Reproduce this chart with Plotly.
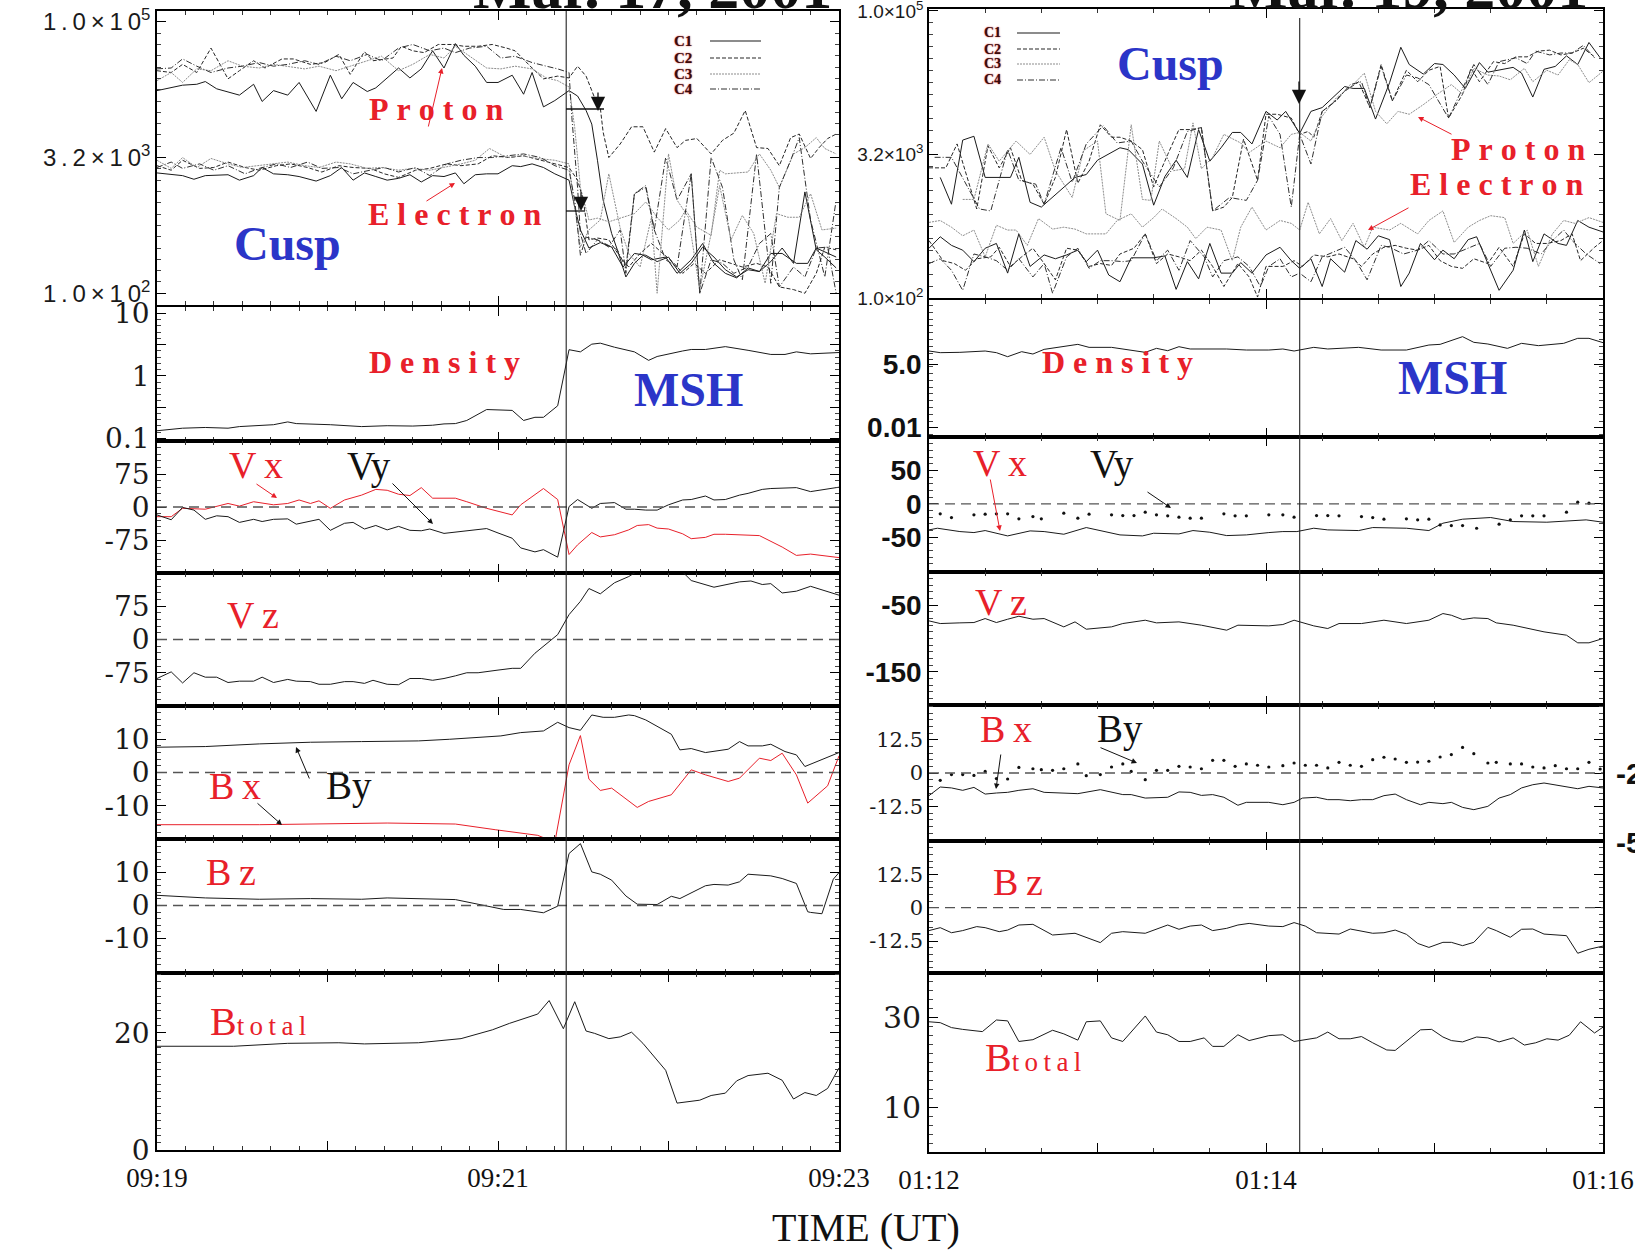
import numpy as np
import pandas as pd
import plotly.graph_objects as go

W, H = 1635, 1251

# ---------------- Mar. 17, 2001 (left column) ----------------
# time = seconds after 09:19:00 UT
L_START = "2001-03-17 09:19:00"
L_EVENT = 144

# log10 energy flux, protons (p) and electrons (e), Cluster C1..C4
l_c1p_t = [0,5,9,14,17,21,29,34,37,41,46,50,56,61,65,69,74,77,85,89,93,97,101,105,108,112,116,120,125,129,132,136,140,145,148,151,153,155,157,160,162,165,168,171,174,179,183,188,192,196,200,204,208,212,216,220,224,228,232,235,239]
l_c1p = [4.24,4.27,4.30,4.31,4.34,4.26,4.19,4.31,4.12,4.24,4.19,4.33,4.01,4.41,4.15,4.33,4.23,4.27,4.49,4.38,4.48,4.68,4.49,4.76,4.63,4.51,4.33,4.33,4.41,4.20,4.44,4.06,4.13,4.24,4.18,4.02,3.87,3.47,3.03,2.66,2.48,2.18,2.33,2.42,2.37,2.40,2.22,2.37,2.55,2.33,2.22,2.17,2.28,2.24,2.35,2.50,2.33,3.12,2.48,2.40,2.28]
l_c2p_t = [0,5,9,14,19,25,29,34,38,44,48,54,59,64,68,73,76,83,86,90,94,99,104,108,113,118,123,126,132,136,141,145,148,151,154,156,157,159,163,167,171,175,179,183,186,190,195,199,203,207,211,215,219,223,226,230,233,236,239]
l_c2p = [4.46,4.44,4.53,4.44,4.71,4.37,4.46,4.57,4.49,4.59,4.59,4.53,4.55,4.64,4.42,4.67,4.57,4.60,4.73,4.68,4.66,4.75,4.75,4.73,4.73,4.75,4.71,4.68,4.49,4.37,4.40,4.38,4.51,4.40,4.16,4.05,3.78,3.50,3.65,3.84,3.84,3.56,3.82,3.61,3.69,3.71,3.54,3.69,3.77,4.02,3.61,3.60,3.41,3.72,3.76,3.49,3.61,3.71,3.76]
l_c3p_t = [0,5,9,14,19,25,30,36,41,46,52,57,63,68,74,79,85,90,96,101,105,110,116,121,126,132,137,141,145,147,149,152,155,159,164,168,172,176,180,184,186,190,195,198,200,208,212,216,219,224,228,232,235,239]
l_c3p = [4.35,4.44,4.33,4.48,4.46,4.57,4.51,4.49,4.53,4.51,4.48,4.51,4.46,4.51,4.57,4.62,4.46,4.53,4.64,4.60,4.73,4.62,4.49,4.48,4.51,4.48,4.38,4.35,4.28,3.83,3.17,2.81,2.83,2.79,2.84,2.88,3.01,2.84,2.70,2.81,2.92,2.73,2.64,3.36,3.32,3.34,3.54,3.36,3.17,3.54,3.61,3.72,3.60,3.54]
l_c4p_t = [0,5,9,14,19,25,30,36,41,46,52,57,63,68,74,79,85,90,96,101,105,110,116,121,126,132,137,141,145,146,148,149,151,155,159,163,165,168,172,175,179,183,188,191,195,199,203,206,211,216,219,223,226,230,235,239]
l_c4p = [4.48,4.49,4.59,4.51,4.44,4.49,4.51,4.55,4.51,4.53,4.57,4.53,4.62,4.57,4.64,4.57,4.71,4.75,4.68,4.71,4.66,4.71,4.73,4.60,4.62,4.55,4.51,4.48,4.44,3.94,3.17,2.66,2.44,2.59,2.51,2.70,2.22,3.10,3.19,2.70,3.50,3.03,3.32,2.00,3.50,3.17,2.37,2.15,3.54,2.11,3.17,3.47,3.72,2.81,2.18,3.03]
l_c1e_t = [0,5,9,13,17,25,29,34,37,41,46,50,56,61,65,69,73,77,81,85,89,93,97,101,105,108,112,116,120,125,128,132,136,140,145,147,149,152,156,160,164,168,172,176,180,184,188,192,196,200,204,208,212,216,220,225,229,232,236,239]
l_c1e = [3.33,3.31,3.30,3.26,3.30,3.31,3.25,3.30,3.39,3.32,3.31,3.29,3.24,3.30,3.39,3.25,3.33,3.29,3.25,3.27,3.31,3.23,3.30,3.29,3.33,3.21,3.31,3.32,3.32,3.41,3.40,3.43,3.39,3.32,3.25,2.95,2.70,2.50,2.56,2.51,2.29,2.44,2.42,2.35,2.40,2.22,2.33,2.51,2.40,2.26,2.18,2.26,2.24,2.44,2.44,2.33,2.33,2.50,2.44,2.40]
l_c2e_t = [0,5,9,15,20,25,31,36,42,47,53,58,64,69,75,80,85,91,96,102,107,113,118,124,129,135,140,145,148,150,152,155,159,163,166,170,174,178,182,185,189,193,198,202,206,211,215,219,224,228,232,235,239]
l_c2e = [3.41,3.36,3.47,3.38,3.39,3.45,3.39,3.36,3.41,3.43,3.39,3.34,3.41,3.39,3.38,3.32,3.28,3.36,3.38,3.43,3.41,3.43,3.52,3.50,3.52,3.47,3.43,3.39,3.25,3.03,2.59,2.61,2.59,2.40,2.29,2.44,2.55,2.44,2.33,2.22,2.33,2.22,2.37,2.33,2.29,2.33,2.29,2.07,2.04,2.00,2.22,2.51,2.48]
l_c3e_t = [0,5,9,14,19,25,30,36,41,46,52,57,63,68,74,79,85,90,96,101,107,112,117,123,128,134,140,145,146,149,152,156,159,163,166,170,174,176,180,183,187,191,195,198,202,206,210,214,218,222,226,230,234,239]
l_c3e = [3.47,3.38,3.50,3.39,3.49,3.43,3.39,3.41,3.43,3.45,3.41,3.39,3.45,3.43,3.38,3.39,3.36,3.38,3.36,3.39,3.43,3.47,3.60,3.50,3.52,3.49,3.47,3.43,3.17,2.51,2.70,2.81,3.32,2.72,2.44,2.29,2.84,2.00,3.54,3.03,2.84,2.04,2.66,3.19,2.59,2.86,2.66,2.11,2.88,2.84,2.84,3.10,2.70,2.72]
l_c4e_t = [0,5,9,15,20,25,31,36,42,47,53,58,64,69,75,80,85,91,96,102,107,113,118,124,129,135,140,145,147,149,151,155,159,162,165,168,172,175,179,183,188,191,195,199,203,208,212,216,219,224,228,232,236,239]
l_c4e = [3.39,3.45,3.38,3.43,3.36,3.41,3.32,3.38,3.43,3.39,3.45,3.38,3.39,3.32,3.36,3.39,3.34,3.39,3.30,3.43,3.47,3.50,3.50,3.52,3.54,3.50,3.41,3.36,3.03,2.42,2.62,2.59,2.53,2.48,2.28,3.10,3.17,2.70,2.37,2.29,3.32,2.00,2.37,2.33,2.22,2.29,2.55,2.66,2.07,2.29,2.18,2.50,2.51,2.00]

l_dens_t = [0,9,17,25,29,36,41,46,49,61,72,81,90,97,101,105,109,116,125,129,133,136,141,145,149,153,156,161,168,173,176,185,188,193,200,208,216,221,225,230,240]
l_dens = [0.133,0.146,0.150,0.146,0.155,0.163,0.166,0.184,0.173,0.166,0.155,0.160,0.158,0.163,0.171,0.173,0.194,0.290,0.281,0.194,0.218,0.218,0.333,2.62,2.42,3.21,3.33,2.87,2.42,1.77,2.04,2.50,2.64,2.64,2.93,2.56,2.20,2.20,2.42,2.25,2.36]

l_vx_t = [0,5,9,17,25,29,34,41,46,50,54,57,61,66,72,77,81,85,89,93,97,105,109,116,125,128,136,141,145,148,153,156,161,166,169,173,176,180,185,188,193,196,200,205,212,220,225,230,240]
l_vx = [-22,-22,-3,-5,8,2,12,5,8,16,8,14,-3,16,27,40,38,29,26,44,20,20,12,-3,-18,5,42,17,-108,-86,-58,-68,-63,-52,-42,-40,-48,-50,-61,-72,-69,-62,-62,-63,-65,-91,-110,-107,-115]
l_vy_t = [0,5,9,13,17,21,25,29,34,37,41,46,49,54,57,61,66,69,73,77,81,85,89,93,96,101,105,109,113,116,120,125,128,133,136,141,145,148,153,156,161,165,168,172,176,180,185,188,193,196,200,205,208,213,216,225,230,240]
l_vy = [-18,-29,-1,-7,-28,-20,-22,-35,-28,-33,-28,-27,-39,-32,-28,-53,-37,-35,-50,-42,-52,-44,-53,-54,-50,-60,-57,-53,-50,-49,-59,-71,-93,-102,-97,-114,1,17,-3,8,10,-5,-5,-7,-7,5,16,17,25,16,17,27,31,40,42,44,35,45]
l_vz_t = [0,5,9,13,17,21,25,29,34,37,41,46,49,54,57,61,66,69,73,76,81,85,89,93,97,101,105,109,113,116,120,125,128,133,136,141,145,149,152,156,161,166,170,175,183,188,196,200,205,209,213,216,220,225,230,240]
l_vz = [-88,-73,-98,-75,-85,-85,-97,-94,-94,-85,-97,-90,-94,-95,-101,-101,-95,-95,-99,-92,-101,-102,-88,-88,-92,-88,-82,-75,-75,-73,-69,-65,-65,-31,-16,11,56,86,115,103,128,142,158,168,165,133,118,124,130,132,124,126,105,109,120,100]

l_bx_t = [0,36,81,105,119,134,140,145,149,152,156,160,169,173,181,188,193,201,205,212,216,220,225,229,236,240]
l_bx = [-15.7,-15.7,-15.2,-15.5,-17.2,-18.9,-21,2.3,11.1,-2,-5.4,-4.7,-10.5,-8.7,-6.7,0.8,-0.7,-2.7,-1.7,4.3,3.6,5.8,-0.7,-9.2,-4,5]
l_by_t = [0,17,36,54,72,92,103,112,121,128,136,141,145,149,153,157,161,166,168,172,176,181,184,188,193,196,201,205,208,213,216,221,225,228,234,240]
l_by = [7.6,7.8,8.6,9.1,9.3,9.5,10,10.4,11,12,12.5,15.1,13.5,12.7,17.3,16.6,16.6,17.3,17.1,15.8,13.8,11.5,6.8,7.2,6,6.3,7,9.3,8,8,8.5,6.3,5.3,1.8,4,6]
l_bz_t = [0,17,36,54,72,81,105,112,122,128,136,141,145,149,153,156,160,165,169,176,181,184,193,196,201,205,208,216,220,225,229,230,234,238,240]
l_bz = [3.1,2.3,1.9,2.1,1.9,2.3,1.8,0.6,-1.2,-1.2,-2.2,-0.2,15.8,18.8,10.2,9.5,7.7,2.9,0.4,0.3,2.8,2.1,6,6.4,6.2,7.2,9.5,9,8.2,6.7,-1.9,-2.1,-2.5,8,10]
l_bt_t = [0,27,46,64,73,92,107,118,124,134,138,143,147,151,154,159,163,167,171,175,179,183,187,191,195,200,204,208,215,220,224,228,232,236,240]
l_bt = [17.7,17.7,18.2,18.3,18.1,18.3,19,20.5,21.6,23.2,25.5,20.7,25.3,20.3,19.9,19,19.3,20.1,18.2,15.9,13.6,8,8.2,8.5,9.3,9.7,11.8,12.7,13.1,11.9,8.7,9.8,9.3,10.5,14]

# ---------------- Mar. 19, 2001 (right column) ----------------
# time = seconds after 01:12:00 UT
R_START = "2001-03-19 01:12:00"
R_EVENT = 132

r_c1p_t = [4,8,12,16,20,29,32,36,40,52,56,60,68,71,76,80,84,88,92,96,100,104,108,111,115,120,124,127,132,136,140,143,148,151,155,159,164,168,171,176,180,183,187,191,196,199,203,208,211,215,219,223,227,231,235,239]
r_c1p = [3.26,2.98,3.65,3.69,3.26,3.26,3.47,3.00,2.95,3.26,3.29,3.44,3.57,3.55,3.40,2.97,3.27,3.44,3.26,3.76,3.43,3.57,3.73,3.73,3.61,3.95,3.86,3.95,3.72,3.95,3.99,4.07,4.21,4.19,4.19,3.87,4.25,4.62,4.44,4.34,4.45,4.44,4.33,4.19,4.46,4.36,4.38,4.41,4.35,4.10,4.39,4.42,4.53,4.44,4.67,4.51]
r_c2p_t = [0,6,10,17,21,25,29,33,37,41,45,49,53,57,61,65,68,72,76,80,85,89,93,97,101,105,108,112,117,120,124,129,132,135,137,140,144,148,153,157,161,165,170,174,178,182,185,190,193,196,201,205,209,213,217,221,225,229,233,237]
r_c2p = [3.36,3.36,3.61,2.93,3.59,3.36,3.57,3.23,3.19,2.98,3.26,3.76,3.20,3.43,3.81,3.68,3.68,3.64,3.55,3.16,3.50,3.76,3.76,3.78,2.91,2.95,3.05,3.66,3.23,3.92,3.92,3.88,3.71,3.74,3.68,3.95,4.04,4.16,4.26,3.99,4.44,4.06,4.38,4.26,4.38,4.42,3.88,4.13,4.40,4.26,4.47,4.45,4.52,4.52,4.58,4.59,4.54,4.56,4.61,4.52]
r_c3p_t = [12,16,21,25,31,36,41,45,51,55,60,63,68,72,76,79,82,87,91,94,97,101,105,111,114,120,125,129,132,136,140,145,151,155,159,163,167,171,176,181,186,190,194,199,203,207,212,215,220,224,228,231,235,240]
r_c3p = [3.03,3.03,3.61,3.43,3.64,3.50,3.68,3.33,3.05,3.54,3.64,2.88,2.81,3.81,3.03,3.02,3.64,3.33,3.35,3.83,3.35,3.47,3.71,3.62,3.52,3.64,3.57,3.71,3.73,3.64,3.90,4.09,4.23,4.35,3.95,3.82,3.95,3.92,4.02,4.13,4.23,4.13,4.40,4.33,4.32,4.28,4.40,4.26,4.38,4.33,4.49,4.44,4.25,4.37]
r_c4p_t = [2,8,18,22,28,32,38,41,47,51,56,62,67,72,76,82,87,92,97,101,107,113,117,121,125,129,132,136,140,145,150,154,157,161,165,170,174,178,185,189,194,199,203,209,213,216,221,225,229,233,237]
r_c4p = [3.47,3.47,2.93,2.91,3.55,3.23,3.19,2.98,3.57,3.21,3.61,3.80,3.62,3.64,3.43,3.16,3.36,3.74,3.78,2.91,3.05,3.02,3.23,3.90,3.71,2.95,3.71,3.40,3.95,4.06,4.23,4.26,3.99,4.42,4.06,4.33,4.30,4.23,3.88,4.13,4.44,4.23,4.47,4.51,4.45,4.58,4.54,4.56,4.56,4.64,4.51]
r_c1e_t = [0,4,8,12,16,20,24,28,32,36,41,45,49,53,56,60,64,68,72,76,80,84,88,92,96,100,104,108,111,115,120,125,129,132,136,140,143,148,152,156,160,164,168,171,175,180,183,187,192,195,199,203,208,212,215,219,224,227,231,235,240]
r_c1e = [2.52,2.64,2.55,2.50,2.38,2.52,2.57,2.26,2.67,2.33,2.45,2.41,2.45,2.50,2.38,2.50,2.24,2.17,2.42,2.42,2.42,2.44,2.09,2.38,2.20,2.57,2.26,2.26,2.37,2.26,2.45,2.53,2.39,2.31,2.41,2.12,2.41,2.27,2.60,2.51,2.65,2.61,2.12,2.26,2.57,2.40,2.50,2.41,2.61,2.64,2.36,2.08,2.29,2.71,2.38,2.67,2.57,2.55,2.81,2.74,2.69]
r_c2e_t = [0,5,9,13,17,22,25,29,33,37,41,45,49,53,57,61,65,68,73,77,81,85,89,93,97,101,105,110,114,117,120,126,130,133,137,142,146,151,154,158,162,166,170,174,178,182,186,190,194,199,203,208,212,216,220,225,229,232,237,240]
r_c2e = [2.60,2.39,2.36,2.29,2.41,2.43,2.53,2.33,2.43,2.52,2.36,2.19,2.52,2.50,2.33,2.36,2.34,2.46,2.52,2.67,2.36,2.46,2.43,2.39,2.50,2.33,2.12,2.36,2.22,2.01,2.33,2.33,2.39,2.33,2.45,2.43,2.46,2.41,2.33,2.46,2.53,2.55,2.52,2.50,2.55,2.39,2.33,2.31,2.41,2.36,2.53,2.33,2.67,2.57,2.57,2.60,2.67,2.39,2.53,2.60]
r_c3e_t = [0,4,8,12,16,20,24,28,31,35,39,44,48,52,56,60,63,67,72,76,80,83,88,92,95,99,104,108,111,115,120,125,129,132,135,139,143,147,151,155,158,164,168,174,178,183,187,192,196,200,205,208,213,217,222,226,230,235,240]
r_c3e = [2.79,2.81,2.74,2.65,2.71,2.43,2.76,2.71,2.71,2.55,2.83,2.72,2.74,2.72,2.67,2.67,2.67,2.81,2.88,2.74,2.84,2.93,2.83,2.74,2.62,2.74,2.71,2.39,2.74,2.95,2.71,2.81,2.78,2.71,3.00,2.67,2.83,2.60,2.78,2.53,2.74,2.71,2.78,2.67,2.81,2.91,2.58,2.74,2.81,2.86,2.84,2.57,2.71,2.33,2.67,2.81,2.78,2.84,2.79]
r_c4e_t = [0,4,8,12,16,20,24,28,32,37,41,44,49,53,57,61,65,69,72,77,81,85,89,93,98,101,105,110,114,118,121,125,129,132,136,140,144,148,152,156,161,164,169,174,178,183,187,192,196,200,205,209,213,218,222,226,229,234,239]
r_c4e = [2.36,2.41,2.29,2.08,2.46,2.43,2.39,2.29,2.41,2.22,2.36,2.05,2.43,2.52,2.31,2.39,2.39,2.38,2.39,2.67,2.39,2.50,2.29,2.60,2.43,2.22,2.39,2.43,2.33,2.12,2.33,2.41,2.22,2.26,2.17,2.43,2.48,2.53,2.39,2.19,2.55,2.53,2.46,2.50,2.60,2.46,2.46,2.52,2.57,2.33,2.52,2.53,2.52,2.46,2.60,2.71,2.60,2.46,2.36]

r_dens_t = [0,4,11,20,24,28,33,37,41,53,57,65,77,81,85,89,93,106,113,121,126,130,137,142,153,161,170,178,182,190,194,199,206,211,217,226,231,235,240]
r_dens = [18.7,15.9,16.4,18.7,15.9,10.7,17.5,13.9,22.0,36.0,26.8,26.8,16.4,24.3,19.3,28.6,22.8,22.8,20.6,20.6,22.8,18.7,26.8,22.8,26.8,20.6,20.6,33.7,36.0,76.6,43.9,37.2,24.3,39.8,31.6,39.8,65,65,42.5]
r_vx_t = [0,3,11,16,20,28,36,41,48,56,68,76,80,89,94,100,106,113,121,126,131,137,142,153,158,170,178,183,190,200,208,220,234,240]
r_vx = [-39,-36.5,-41.5,-43,-40,-48,-40.5,-41.5,-45.5,-35.5,-46.5,-48,-44,-45,-40,-42.5,-47.5,-46.5,-43,-41.5,-41.5,-36.5,-39,-40,-35.5,-36.5,-40,-29,-23,-20.5,-26.5,-27.5,-24,-27.5]
r_vy_t = [4,8,16,20,24,28,32,37,40,48,53,57,65,69,73,77,81,85,89,93,97,105,109,113,121,126,130,138,142,146,154,158,162,170,174,178,182,186,190,195,203,207,211,215,219,227,231,235]
r_vy = [-15,-20.5,-16.5,-15.5,-15,-15,-22.5,-19,-22.5,-14,-21.5,-15.5,-16.5,-17.5,-17.5,-12.5,-16.5,-18,-20,-21.5,-21.5,-15,-18,-18,-16.5,-16.5,-20,-17.5,-17.5,-18,-19,-20.5,-23,-22.5,-24,-23,-31.5,-32.5,-32.5,-36.5,-30.5,-24,-18,-18,-18,-12.5,2.5,1]
r_vz_t = [0,4,11,16,20,24,28,32,37,41,48,52,56,65,69,77,81,89,97,106,110,117,121,126,130,137,142,146,154,162,170,178,183,186,190,194,199,202,208,219,227,231,235,240]
r_vz = [-73.5,-77.5,-76.5,-76,-70,-76,-71,-66.5,-71,-70,-82.5,-75,-86,-82.5,-77.5,-72.5,-76.5,-75,-80,-87.5,-80,-80,-81,-79,-72.5,-81,-85,-77.5,-77.5,-72.5,-77.5,-72.5,-62.5,-65,-71.5,-69,-70,-76.5,-80,-90,-95,-106.5,-106.5,-100]
r_bx_t = [0,4,8,12,16,20,24,28,32,37,41,53,61,69,72,77,85,89,93,97,101,105,110,113,121,126,130,133,138,142,146,150,154,158,162,166,170,175,178,183,186,190,194,199,203,207,211,215,219,223,227,231,235,240]
r_bx = [-8.5,-5.25,-5.6,-6.5,-5.4,-7.9,-7.5,-7.25,-6.5,-5.9,-7.25,-7.75,-6.25,-8.1,-8.1,-9.4,-9.1,-7.1,-7.25,-8.4,-8.1,-9.1,-12.1,-11,-11,-11.9,-11,-9.4,-9.1,-10,-10,-10.4,-10,-10,-8.5,-7.9,-10,-11.9,-11,-11.5,-11,-12.9,-13.75,-12.5,-9.4,-8.1,-5.6,-4.4,-3.75,-4.4,-5.25,-5.9,-5,-5.6]
r_by_t = [4,8,12,16,20,24,28,32,37,40,44,48,53,56,61,65,69,72,77,81,85,89,93,97,101,105,109,113,117,121,126,130,134,138,142,146,150,154,158,162,166,170,174,178,182,186,190,194,199,202,207,211,215,219,223,227,231,235,239]
r_by = [-2.75,-0.6,-0.6,-0.9,0.6,-2.1,-2.25,2.1,1.6,1.25,1,1.6,3.4,-1,-0.6,2.25,3.4,0.6,-2.5,1,1,2.5,2.25,1.6,4.75,4.75,2.5,3.4,2.9,2.25,2.75,3.75,2.9,2.9,1.9,4,2.9,2.5,5,5.9,5.25,4,4.1,4.4,6,6.9,9.6,7.25,3.75,4,3.4,3.4,2.25,1.9,2.75,1.6,1.6,4,1.5]
r_bz_t = [0,4,8,12,17,20,25,28,32,37,44,52,61,65,69,77,85,89,93,97,101,106,110,114,121,126,130,134,138,146,150,154,158,162,166,170,174,178,183,186,190,194,199,202,207,211,215,219,227,231,235,240]
r_bz = [-8.6,-7.5,-9.4,-8.6,-7.1,-7.5,-9,-8.4,-6.5,-6.25,-10.25,-9.6,-13.1,-9.6,-9,-9.6,-6.5,-8.1,-6.9,-6.5,-8.6,-7.75,-6.5,-5.9,-6.9,-7.1,-5.6,-6.9,-9.4,-9.9,-8,-8.75,-9.6,-9.4,-8.4,-10,-13.4,-14.9,-13,-13,-14.25,-13,-7.4,-8.6,-11.1,-8.1,-8,-9.9,-10.5,-17.1,-15.6,-14.4]
r_bt_t = [0,4,8,12,19,24,28,32,37,44,48,53,56,61,65,69,77,81,85,89,93,98,101,105,110,114,121,126,130,138,142,146,150,154,158,163,166,175,179,183,186,190,195,199,203,208,212,216,220,224,228,232,237,240]
r_bt = [29.1,28.9,27.8,27.4,26.9,29.5,29.3,24.7,25.1,27.2,26.4,25,29.1,29.3,25.5,24.7,30.4,26.8,26.2,24.7,24.7,25.5,23.6,23.6,26.2,24.9,26,26.2,24.7,25.5,26.8,25.3,25.3,25.8,24.4,22.8,22.7,27.3,27.4,25.7,24.9,24.6,25.7,25.5,24.6,25.5,23.9,24.4,25.3,25,26.1,29.1,26.6,27.9]

# ---------------- styling ----------------
RED = "#e8202a"
BLUE = "#2b35c8"
SERIF = "Liberation Serif"
SANS = "Liberation Sans"
WIDE = "DejaVu Serif"
SC_STYLE = {
    "C1": dict(color="#1a1a1a", dash="solid"),
    "C2": dict(color="#262626", dash="4px,2px"),
    "C3": dict(color="#8c8c8c", dash="2px,1px"),
    "C4": dict(color="#303030", dash="6px,2px,1px,2px"),
}

# panel edges in pixels (top, bottom)
L_ROWS = [(11, 305), (307, 441), (441, 573), (573, 706), (706, 839), (839, 973), (973, 1150)]
R_ROWS = [(9, 298), (300, 437), (437, 572), (572, 705), (705, 841), (841, 973), (973, 1152)]
L_X = (157, 839)
R_X = (929, 1603)


def px(p):
    return p / W


def py(p):
    return 1 - p / H


def times(start, secs):
    return pd.Timestamp(start) + pd.to_timedelta(np.asarray(secs, dtype=float), unit="s")


def spaced(s, sp="\u2005"):
    return sp.join(s)


fig = go.Figure()


def line(k, start, t, y, color="#1a1a1a", dash="solid", width=1.0):
    fig.add_trace(go.Scatter(x=times(start, t), y=y, mode="lines",
                             line=dict(color=color, dash=dash, width=width),
                             xaxis=f"x{k}", yaxis=f"y{k}", showlegend=False, hoverinfo="skip"))


def dots(k, start, t, y):
    fig.add_trace(go.Scatter(x=times(start, t), y=y, mode="markers",
                             marker=dict(color="#111", size=3.2),
                             xaxis=f"x{k}", yaxis=f"y{k}", showlegend=False, hoverinfo="skip"))


def time_axis(k, start, labels, minor_s, xdom, show):
    t0 = pd.Timestamp(start)
    vals = [t0 + pd.Timedelta(seconds=s) for s in (0, 60, 120, 180, 240)]
    return dict(domain=[px(xdom[0]), px(xdom[1])], anchor=f"y{k}", type="date",
                range=[vals[0], vals[-1]], tickmode="array", tickvals=vals,
                ticktext=[labels[0], "", labels[1], "", labels[2]],
                showticklabels=show, ticks="inside", ticklen=9, tickwidth=1.2,
                tickcolor="black", showline=True, linecolor="black", linewidth=1.6,
                mirror="allticks", showgrid=False, zeroline=False, automargin=False,
                ticklabelstandoff=3, ticklabeloverflow="allow",
                minor=dict(ticks="inside", ticklen=4, tickcolor="#333",
                           dtick=minor_s * 1000, tick0=vals[0]),
                tickfont=dict(family=SERIF, size=27, color="#111"))


def value_axis(k, row, rng, vals, text, font, kind="linear", minor=None):
    ax = dict(domain=[py(row[1]), py(row[0])], anchor=f"x{k}", type=kind, range=rng,
              tickmode="array", tickvals=vals, ticktext=text, ticks="inside",
              ticklen=9, tickwidth=1.2, tickcolor="black", showline=True,
              linecolor="black", linewidth=1.6, mirror="allticks", showgrid=False,
              zeroline=False, automargin=False, ticklabeloverflow="allow", tickfont=font)
    if minor is not None:
        ax["minor"] = dict(ticks="inside", ticklen=4, tickcolor="#444",
                           tickmode="array", tickvals=list(minor))
    return ax


layout = {}
flux_vals = list(10 ** np.array([2, 2.75, 3.5, 4.25, 5]))
flux_minor = 10 ** np.arange(2, 5.01, 0.125)

# ----- left column axes -----
lf = dict(family=WIDE, size=28, color="#1a1a1a")
lsans = dict(family=SANS, size=24, color="#1a1a1a")
for i in range(7):
    k = i + 1
    layout[f"xaxis{k}"] = time_axis(k, L_START, ("09:19", "09:21", "09:23"), 10, L_X, k == 7)
layout["yaxis1"] = value_axis(1, L_ROWS[0], [1.87, 5.12], flux_vals,
                              [spaced("1.0×10", "\u2009") + "<sup>2</sup>", "",
                               spaced("3.2×10", "\u2009") + "<sup>3</sup>", "",
                               spaced("1.0×10", "\u2009") + "<sup>5</sup>"],
                              lsans, "log", flux_minor)
layout["yaxis2"] = value_axis(2, L_ROWS[1], [-1.04, 1.1], [0.1, 10 ** -0.5, 1, 10 ** 0.5, 10],
                              ["0.1", "", "1", "", "10"], lf, "log",
                              10 ** np.arange(-1, 1.01, 0.1))
layout["yaxis3"] = value_axis(3, L_ROWS[2], [-150, 150], [-75, 0, 75], ["-75", "0", "75"], lf,
                              minor=np.arange(-150, 151, 15))
layout["yaxis4"] = value_axis(4, L_ROWS[3], [-150, 150], [-75, 0, 75], ["-75", "0", "75"], lf,
                              minor=np.arange(-150, 151, 15))
layout["yaxis5"] = value_axis(5, L_ROWS[4], [-20, 20], [-10, 0, 10], ["-10", "0", "10"], lf,
                              minor=np.arange(-20, 21, 2))
layout["yaxis6"] = value_axis(6, L_ROWS[5], [-20.5, 20.2], [-10, 0, 10], ["-10", "0", "10"], lf,
                              minor=np.arange(-20, 21, 2))
layout["yaxis7"] = value_axis(7, L_ROWS[6], [0, 30.2], [0, 5, 10, 15, 20, 25, 30],
                              ["0", "", "", "", "20", "", ""], lf,
                              minor=np.arange(0, 30.1, 1.25))

# ----- right column axes -----
rsmall = dict(family=SANS, size=19, color="#1a1a1a")
rbold = dict(family=SANS, size=28, color="#111", weight="bold")
rser = dict(family=WIDE, size=21, color="#1a1a1a")
rbig = dict(family=WIDE, size=30, color="#1a1a1a")
for i in range(7):
    k = i + 8
    layout[f"xaxis{k}"] = time_axis(k, R_START, ("01:12", "01:14", "01:16"), 20, R_X, k == 14)
layout["yaxis8"] = value_axis(8, R_ROWS[0], [2.0, 5.02], flux_vals,
                              ["1.0×10<sup>2</sup>", "", "3.2×10<sup>3</sup>", "",
                               "1.0×10<sup>5</sup>"], rsmall, "log", flux_minor)
layout["yaxis9"] = value_axis(9, R_ROWS[1], [-2.4, 3.45], [0.01, 5.0], ["0.01", "5.0"], rbold,
                              "log", 10 ** np.arange(-2.3, 3.45, 0.29))
layout["yaxis10"] = value_axis(10, R_ROWS[2], [-102, 100], [-50, 0, 50], ["-50", "0", "50"], rbold,
                               minor=np.arange(-100, 101, 10))
layout["yaxis11"] = value_axis(11, R_ROWS[3], [-200, 0], [-150, -100, -50], ["-150", "", "-50"],
                               rbold, minor=np.arange(-200, 1, 10))
layout["yaxis12"] = value_axis(12, R_ROWS[4], [-25.5, 25.5], [-12.5, 0, 12.5],
                               ["-12.5", "0", "12.5"], rser, minor=np.arange(-25, 26, 2.5))
layout["yaxis13"] = value_axis(13, R_ROWS[5], [-24.5, 25], [-12.5, 0, 12.5],
                               ["-12.5", "0", "12.5"], rser, minor=np.arange(-22.5, 25.1, 2.5))
layout["yaxis14"] = value_axis(14, R_ROWS[6], [0, 40], [10, 20, 30], ["10", "", "30"], rbig,
                               minor=np.arange(0, 40.1, 2))

# ----- traces: energy flux panels -----
left_flux = [("C1", l_c1p_t, l_c1p), ("C2", l_c2p_t, l_c2p), ("C3", l_c3p_t, l_c3p), ("C4", l_c4p_t, l_c4p),
             ("C1", l_c1e_t, l_c1e), ("C2", l_c2e_t, l_c2e), ("C3", l_c3e_t, l_c3e), ("C4", l_c4e_t, l_c4e)]
right_flux = [("C1", r_c1p_t, r_c1p), ("C2", r_c2p_t, r_c2p), ("C3", r_c3p_t, r_c3p), ("C4", r_c4p_t, r_c4p),
              ("C1", r_c1e_t, r_c1e), ("C2", r_c2e_t, r_c2e), ("C3", r_c3e_t, r_c3e), ("C4", r_c4e_t, r_c4e)]
for sc, t, lg in left_flux:
    line(1, L_START, t, 10 ** np.array(lg), **SC_STYLE[sc])
for sc, t, lg in right_flux:
    line(8, R_START, t, 10 ** np.array(lg), **SC_STYLE[sc])

# ----- traces: plasma and field -----
line(2, L_START, l_dens_t, l_dens)
line(3, L_START, l_vx_t, l_vx, color=RED)
line(3, L_START, l_vy_t, l_vy)
line(4, L_START, l_vz_t, l_vz)
line(5, L_START, l_bx_t, l_bx, color=RED)
line(5, L_START, l_by_t, l_by)
line(6, L_START, l_bz_t, l_bz)
line(7, L_START, l_bt_t, l_bt)

line(9, R_START, r_dens_t, r_dens)
line(10, R_START, r_vx_t, r_vx)
dots(10, R_START, r_vy_t, r_vy)
line(11, R_START, r_vz_t, r_vz)
line(12, R_START, r_bx_t, r_bx)
dots(12, R_START, r_by_t, r_by)
line(13, R_START, r_bz_t, r_bz)
line(14, R_START, r_bt_t, r_bt)

# ----- shapes: zero lines, event lines, legend samples -----
shapes = []
for k in (3, 4, 5, 6, 10, 12, 13):
    shapes.append(dict(type="line", xref=f"x{k} domain", yref=f"y{k}", x0=0, x1=1, y0=0, y1=0,
                       line=dict(color="#555", width=1.3, dash="10px,6px")))
l_ev = pd.Timestamp(L_START) + pd.Timedelta(seconds=L_EVENT)
r_ev = pd.Timestamp(R_START) + pd.Timedelta(seconds=R_EVENT)
shapes.append(dict(type="line", xref="x7", yref="paper", x0=l_ev, x1=l_ev,
                   y0=py(1150), y1=py(11), line=dict(color="#222", width=1.1)))
shapes.append(dict(type="line", xref="x14", yref="paper", x0=r_ev, x1=r_ev,
                   y0=py(1152), y1=py(18), line=dict(color="#222", width=1.1)))
# brackets at the crossing on Mar. 17
shapes.append(dict(type="line", xref="paper", yref="paper", x0=px(566), x1=px(604),
                   y0=py(109), y1=py(109), line=dict(color="#111", width=1.3)))
shapes.append(dict(type="line", xref="paper", yref="paper", x0=px(566), x1=px(585),
                   y0=py(211), y1=py(211), line=dict(color="#111", width=1.3)))

annotations = []


def note(text, x, y, size, color, family=SERIF, bold=False, **kw):
    d = dict(x=px(x), y=py(y), xref="paper", yref="paper", text=text, showarrow=False,
             font=dict(family=family, size=size, color=color, weight="bold" if bold else "normal"),
             xanchor="center", yanchor="middle")
    d.update(kw)
    annotations.append(d)


def arrow(x, y, ax, ay, color="#111", head=2, size=1.1, width=1.0):
    annotations.append(dict(x=px(x), y=py(y), xref="paper", yref="paper", text="", showarrow=True,
                            ax=ax, ay=ay, arrowhead=head, arrowsize=size, arrowwidth=width,
                            arrowcolor=color, standoff=0))


# legends (C1..C4)
for col, (tx, x0, x1, ys, fs) in {
    "L": (683, 710, 761, (41, 58, 74, 89), 15),
    "R": (992, 1017, 1060, (33, 49, 64, 80), 14),
}.items():
    for sc, yy in zip(("C1", "C2", "C3", "C4"), ys):
        note(sc, tx, yy, fs, "#3a0c0c", bold=True, font_shadow="0px 0px 1.5px #d82a2a")
        shapes.append(dict(type="line", xref="paper", yref="paper", x0=px(x0), x1=px(x1),
                           y0=py(yy), y1=py(yy),
                           line=dict(color=SC_STYLE[sc]["color"], width=1.1, dash=SC_STYLE[sc]["dash"])))

# left column labels
note(spaced("Proton"), 436, 109, 32, RED, bold=True)
note(spaced("Electron"), 455, 214, 32, RED, bold=True)
note("Cusp", 287, 244, 48, BLUE, bold=True)
note(spaced("Density"), 444, 362, 32, RED, bold=True)
note("MSH", 688, 389, 48, BLUE, bold=True)
note("V\u2009x", 256, 465, 38, RED)
note("Vy", 369, 466, 39, "#111")
note("V\u2009z", 253, 615, 38, RED)
note("B\u2009x", 235, 786, 38, RED)
note("By", 349, 786, 39, "#111")
note("B\u2009z", 231, 872, 38, RED)
note("B<span style='font-size:27px'>" + spaced("total", "\u2009") + "</span>", 258, 1021, 40, RED)

arrow(442, 68, -14, 60, RED)
arrow(455, 183, -30, 19, RED)
arrow(277, 498, -22, -15, RED)
arrow(433, 524, -42, -42)
arrow(296, 747, 14, 33)
arrow(282, 825, -26, -23)
arrow(598, 111, 0, -20, head=2, size=2.2, width=1.3)
arrow(581, 211, 0, -20, head=2, size=2.2, width=1.3)

# right column labels
note("Cusp", 1170, 64, 48, BLUE, bold=True)
note(spaced("Proton"), 1518, 149, 32, RED, bold=True)
note(spaced("Electron"), 1497, 184, 32, RED, bold=True)
note(spaced("Density"), 1117, 362, 32, RED, bold=True)
note("MSH", 1452, 377, 48, BLUE, bold=True)
note("V\u2009x", 1000, 463, 38, RED)
note("Vy", 1112, 464, 39, "#111")
note("V\u2009z", 1001, 602, 38, RED)
note("B\u2009x", 1006, 729, 38, RED)
note("By", 1120, 729, 39, "#111")
note("B\u2009z", 1018, 882, 38, RED)
note("B<span style='font-size:27px'>" + spaced("total", "\u2009") + "</span>", 1033, 1057, 40, RED)

arrow(1418, 117, 35, 18, RED)
arrow(1368, 230, 42, -23, RED)
arrow(1000, 531, -10, -53, RED)
arrow(1171, 508, -25, -17)
arrow(996, 789, 5, -36)
arrow(1137, 763, -38, -16)
arrow(1299, 104, 0, -24, head=2, size=2.2, width=1.3)

# titles (cut at the top edge) and common x label
note("Mar. 17, 2001", 652, -13, 62, "#111", bold=True)
note("Mar. 19, 2001", 1408, -13, 62, "#111", bold=True)
note("TIME (UT)", 866, 1227, 40, "#111")
note("-2", 1614, 773, 30, "#111", family=SANS, bold=True, xanchor="left")
note("-5", 1614, 842, 30, "#111", family=SANS, bold=True, xanchor="left")

fig.update_layout(
    width=W, height=H, margin=dict(l=0, r=0, t=0, b=0, autoexpand=False),
    paper_bgcolor="white", plot_bgcolor="white",
    showlegend=False, shapes=shapes, annotations=annotations,
    **layout,
)

fig.write_html("out.html", config={"displayModeBar": False},
               post_script="document.body.style.margin='0';document.body.style.overflow='hidden';")
